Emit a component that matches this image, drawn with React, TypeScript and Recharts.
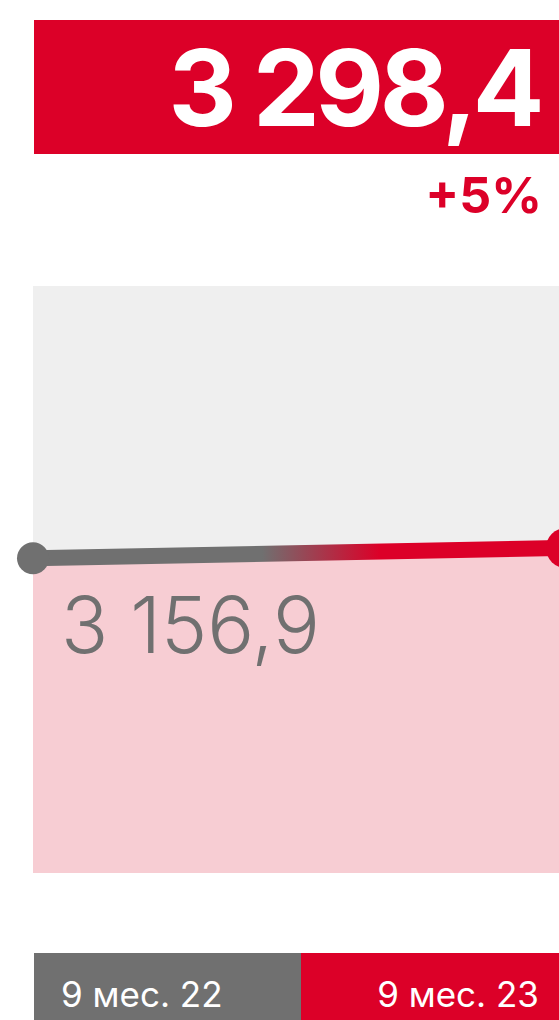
import React from 'react';
import { ComposedChart, Area, Line, XAxis, YAxis, CartesianGrid, LabelList } from 'recharts';

const categories = ['9 мес. 22', '9 мес. 23'];
const values = [3156.9, 3298.4];
const valueLabels = ['3 156,9', '3 298,4'];
const headlineValue = '3 298,4';
const changeLabel = '+5%';

const RED = '#DC0028';
const GRAY = '#707070';
const PINK = '#F7CDD3';
const BG = '#EFEFEF';
const FONT = 'Inter, "Noto Sans", sans-serif';

const data = categories.map((c, i) => ({ label: c, value: values[i], text: valueLabels[i] }));

const Y_MIN = -1166;
const Y_MAX = 6897;

const renderDot = (props: any) => {
  const { cx, cy, index } = props;
  if (index === 0) return <circle key="d0" cx={cx} cy={cy} r={16} fill={GRAY} />;
  return (
    <g key="d1">
      <circle cx={cx} cy={cy} r={20} fill={RED} />
      <circle cx={cx} cy={cy} r={7} fill="#fff" />
    </g>
  );
};

const renderValueLabel = (props: any) => {
  const { x, y, index, value } = props;
  if (index !== 0) return null;
  return (
    <text key="lbl" x={x + 28} y={y + 95} fill={GRAY} fontSize={78} fontWeight={300} fontFamily={FONT}>
      {value}
    </text>
  );
};

const renderTick = (props: any) => {
  const { x, y, payload, index } = props;
  const first = index === 0;
  return (
    <g>
      <rect x={first ? x + 1 : x - 265} y={y + 80} width={first ? 267 : 300} height={67} fill={first ? GRAY : RED} />
      <text
        x={first ? x + 28 : x - 27}
        y={y + 134}
        textAnchor={first ? 'start' : 'end'}
        fill="#fff"
        fontSize={35}
        fontFamily={FONT}
      >
        {payload.value}
      </text>
    </g>
  );
};

export default function App() {
  return (
    <div style={{ position: 'absolute', left: 0, top: 0, width: 559, height: 1020, overflow: 'hidden', background: '#fff' }}>
      <svg width={600} height={240} style={{ position: 'absolute', left: 0, top: 0 }}>
        <rect x={34} y={20} width={566} height={134} fill={RED} />
        <text x={540} y={126} textAnchor="end" fill="#fff" fontSize={106} fontWeight={700} fontFamily={FONT} letterSpacing={-4.5}>
          {headlineValue}
        </text>
        <text x={542} y={212.7} textAnchor="end" fill={RED} fontSize={50} fontWeight={700} fontFamily={FONT}>
          {changeLabel}
        </text>
      </svg>
      <div style={{ position: 'absolute', left: 0, top: 0 }}>
        <ComposedChart width={600} height={1020} data={data} margin={{ top: 286, right: 34, bottom: 0, left: 33 }}>
          <defs>
            <linearGradient id="lineGrad" x1="0" y1="0" x2="1" y2="0">
              <stop offset="0.43" stopColor={GRAY} />
              <stop offset="0.65" stopColor={RED} />
            </linearGradient>
          </defs>
          <CartesianGrid fill={BG} fillOpacity={1} stroke="none" horizontal={false} vertical={false} />
          <XAxis
            dataKey="label"
            type="category"
            scale="point"
            padding={{ left: 0, right: 0 }}
            height={147}
            axisLine={false}
            tickLine={false}
            tickSize={0}
            tickMargin={0}
            interval={0}
            tick={renderTick}
          />
          <YAxis hide type="number" domain={[Y_MIN, Y_MAX]} />
          <Area
            type="linear"
            dataKey="value"
            fill={PINK}
            fillOpacity={1}
            stroke="none"
            baseValue="dataMin"
            dot={false}
            activeDot={false}
            isAnimationActive={false}
          />
          <Line
            type="linear"
            dataKey="value"
            stroke="url(#lineGrad)"
            strokeWidth={16}
            dot={renderDot}
            activeDot={false}
            isAnimationActive={false}
          >
            <LabelList dataKey="text" content={renderValueLabel} />
          </Line>
        </ComposedChart>
      </div>
    </div>
  );
}
